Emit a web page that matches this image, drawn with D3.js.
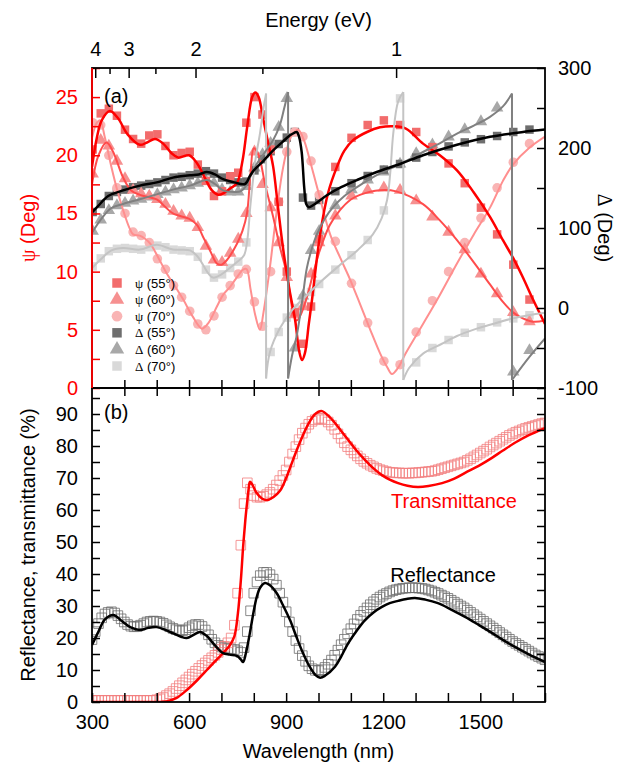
<!DOCTYPE html>
<html>
<head>
<meta charset="utf-8">
<script src="https://cdn.jsdelivr.net/npm/d3@7"></script>
<style>
  body { margin: 0; background: #fff; }
  text { font-family: "Liberation Sans", Arial, sans-serif; }
  .greek { font-family: "Liberation Serif", "DejaVu Serif", serif; }
</style>
</head>
<body>
<svg id="chart" width="628" height="770"></svg>
<script>
// ---------- Ellipsometry: measured points (nm) ----------
const ellipsoWl = [302,327,352,377,402,427,452,477,502,527,552,577,602,627,652,677,702,727,752,777,802,827,852,877,902,927,952,977,1002,1052,1102,1152,1202,1252,1302,1352,1402,1452,1502,1552,1602,1652];
const psi55Meas = [20.5,23.6,24.0,23.4,22.2,21.4,21.0,21.7,21.8,20.8,20.0,20.2,20.3,19.2,17.8,16.5,16.9,18.2,18.5,22.8,25.0,23.5,20.5,16.0,10.0,6.5,3.8,7.0,12.8,19.0,21.5,22.6,23.0,22.6,22.0,20.7,19.3,17.6,15.5,13.2,10.6,7.6];
const psi60Meas = [18.4,21.3,20.8,19.5,18.0,17.0,16.7,16.5,16.2,15.8,15.2,14.8,14.6,13.8,12.2,11.0,10.8,11.6,12.8,15.0,20.3,17.5,15.5,12.5,9.5,6.3,7.0,9.8,12.5,14.8,16.5,17.0,17.2,17.0,16.1,14.7,13.4,11.9,9.8,8.1,6.5,5.7];
const psi70Meas = [22.8,22.6,20.0,17.2,15.0,13.4,13.1,12.5,11.1,10.2,8.8,7.8,6.6,5.5,5.0,6.2,7.8,8.8,9.8,10.2,7.4,5.3,10.0,16.0,20.3,22.0,21.6,19.5,16.6,12.6,9.0,5.6,2.3,2.0,4.8,7.5,10.0,12.5,14.6,17.2,19.4,21.0];
const delta55Meas = [120,130,140,145,148,151,153,155,157,160,163,164,166,168,171,168,163,160,157,158,172,186,196,205,213,220,138,128,135,146,156,165,173,180,188,195,202,207,211,215,220,223];
const delta60Meas = [96,110,122,128,131,134,136,139,142,145,148,150,153,156,159,156,148,145,145,152,175,192,206,226,262,-50,15,72,96,128,148,160,170,180,193,204,214,223,233,250,-80,-53];
const delta70Meas = [52,62,71,74,75,74,73,76,78,76,73,72,71,64,48,38,42,50,58,82,175,242,-55,-30,-12,0,12,20,30,48,66,85,122,262,-68,-50,-40,-31,-24,-18,-13,-9];

// ---------- Ellipsometry: model curves [nm, value]; repeated nm = 360° phase wrap ----------
const psi55Model = [[300,19.0],[315,21.5],[330,23.0],[355,23.8],[380,23.2],[410,21.8],[448,20.9],[470,21.1],[495,21.4],[520,21.0],[545,20.2],[566,19.8],[600,20.0],[625,19.3],[650,18.0],[670,17.0],[690,16.6],[710,16.8],[730,17.2],[748,17.6],[765,19.5],[780,22.5],[795,25.0],[805,25.4],[815,25.0],[830,23.0],[845,21.0],[860,19.0],[875,15.5],[891,11.9],[910,8.5],[928,5.8],[940,3.2],[949,2.4],[958,3.0],[970,5.5],[980,7.6],[1005,13.2],[1030,16.8],[1057,19.0],[1080,20.4],[1107,21.3],[1150,22.0],[1190,22.4],[1230,22.5],[1270,22.3],[1323,21.0],[1375,20.0],[1428,18.7],[1480,16.8],[1530,14.7],[1570,12.7],[1601,11.2],[1630,9.6],[1663,7.6],[1700,5.5]];
const psi60Model = [[300,17.5],[320,20.0],[345,21.1],[365,20.3],[396,18.1],[420,17.0],[448,16.6],[500,16.2],[525,15.6],[550,15.0],[603,14.5],[625,14.0],[643,13.0],[665,11.8],[686,10.7],[700,10.6],[717,11.0],[748,12.4],[765,13.5],[779,15.0],[790,18.5],[800,20.6],[815,20.0],[835,17.5],[860,14.7],[880,12.2],[902,9.8],[915,7.5],[922,6.4],[933,5.8],[945,6.3],[964,7.8],[985,10.0],[1005,11.9],[1035,14.0],[1067,15.3],[1100,16.2],[1128,16.6],[1190,17.0],[1240,16.9],[1323,15.8],[1375,14.4],[1428,12.7],[1480,10.8],[1530,8.9],[1570,7.4],[1601,6.5],[1630,6.0],[1663,5.7],[1700,5.8]];
const psi70Model = [[300,21.5],[315,22.8],[325,23.0],[340,21.5],[360,19.0],[380,16.8],[396,15.3],[415,13.8],[427,13.2],[448,13.1],[465,12.8],[480,12.4],[505,11.2],[532,9.8],[560,8.6],[582,7.6],[610,6.2],[640,5.1],[660,5.6],[686,7.0],[705,8.0],[727,8.7],[750,9.6],[768,10.2],[778,10.2],[790,8.5],[805,6.2],[819,5.0],[830,6.5],[850,10.4],[870,15.0],[891,19.0],[915,21.6],[937,22.2],[955,21.3],[973,19.6],[1000,16.8],[1036,13.2],[1067,11.2],[1098,9.3],[1130,7.1],[1160,5.0],[1190,3.0],[1212,1.8],[1227,1.2],[1245,1.7],[1270,3.0],[1323,5.5],[1375,8.0],[1428,10.7],[1480,13.2],[1530,15.5],[1570,17.8],[1601,19.2],[1650,20.6],[1700,21.6]];
const delta55Model = [[300,119.5],[320,128],[350,140],[396,147],[448,153],[500,157],[550,163],[603,166],[630,167],[655,170],[680,167],[705,161],[740,157],[773,155],[788,165],[800,172],[830,184],[860,197],[890,208],[912,216],[925,219],[933,220],[940,214],[948,195],[956,150],[962,130],[970,126],[985,129],[1026,141],[1070,151],[1119,160],[1180,170],[1252,180],[1323,191],[1428,204],[1530,214],[1632,220],[1700,223]];
const delta60Model = [[300,94],[330,112],[360,125],[396,130],[448,136],[500,142],[550,148],[603,153],[655,160],[680,155],[705,147],[745,145],[760,146],[775,152],[790,165],[809,180],[835,195],[860,210],[880,228],[893,248],[906,270],[906,-88],[918,-60],[933,-34],[950,10],[964,50],[980,75],[995,92],[1020,112],[1045,126],[1080,140],[1119,151],[1180,166],[1252,180],[1323,195],[1380,207],[1428,218],[1480,228],[1530,239],[1570,252],[1598,268],[1598,-90],[1650,-62],[1700,-38]];
const delta70Model = [[300,50],[330,62],[360,72],[396,75],[448,73],[500,79],[550,73],[603,72],[625,65],[643,54],[660,43],[674,38],[700,42],[726,50],[750,58],[770,66],[780,85],[790,130],[805,185],[819,218],[830,250],[838,268],[838,-88],[850,-55],[881,-25],[920,-2],[964,16],[1010,34],[1067,54],[1120,72],[1168,92],[1195,112],[1212,135],[1222,170],[1231,218],[1246,258],[1262,270],[1262,-90],[1280,-75],[1323,-57],[1380,-45],[1428,-35],[1480,-27],[1530,-21],[1601,-13],[1650,-9],[1700,-6]];

// ---------- Reflectance / transmittance: measured (every 10 nm, 300–1700) ----------
const rtWl = d3.range(300, 1701, 10);
const transMeas = [0.5,0.5,0.5,0.5,0.5,0.5,0.5,0.5,0.5,0.5,0.5,0.5,0.5,0.5,0.5,0.5,0.5,0.5,0.5,0.5,
  0.7,1.0,1.4,2.0,2.6,3.3,4.2,5.1,6.0,6.9,7.8,8.7,9.6,10.5,11.4,12.2,13.0,13.8,14.6,15.5,
  16.4,17.4,18.5,20.0,24.0,34.0,49.0,62.0,68.5,66.5,64.5,64.0,64.0,64.3,64.8,65.5,66.5,67.8,69.2,70.8,
  72.5,75.0,77.5,79.8,82.0,84.0,85.6,86.8,87.7,88.2,
  88.6,88.6,88.2,87.5,86.5,85.2,83.8,82.4,81.0,79.8,78.8,77.8,76.9,76.0,75.2,74.6,74.0,73.5,73.0,72.6,
  72.3,72.0,71.8,71.7,71.6,71.6,71.5,71.5,71.5,71.6,71.6,71.7,71.8,71.9,72.0,72.1,72.3,72.6,72.9,73.2,
  73.5,73.8,74.1,74.4,74.7,75.0,75.5,76.0,76.6,77.2,77.8,78.4,79.0,79.7,80.3,80.9,81.5,82.1,82.7,83.3,
  83.8,84.3,84.7,85.1,85.5,85.8,86.1,86.4,86.7,87.0,87.2];
const reflMeas = [19.5,22.0,24.5,26.3,27.5,28.0,28.2,27.8,27.0,26.0,25.0,24.2,23.7,23.5,23.6,24.0,24.5,25.0,25.2,25.3,
  25.2,25.0,24.6,24.1,23.5,23.0,22.6,22.3,22.3,22.6,23.2,23.8,24.2,24.2,23.6,22.5,21.0,19.6,18.5,17.7,
  17.2,16.9,16.7,16.6,16.4,16.0,15.5,17.0,22.0,28.5,34.0,37.5,39.5,40.5,40.5,39.8,38.4,36.5,34.0,31.2,
  28.2,25.0,22.0,19.2,16.7,14.5,12.7,11.3,10.4,9.9,
  9.8,10.1,10.8,11.8,13.1,14.6,16.2,17.9,19.6,21.3,22.9,24.4,25.8,27.1,28.3,29.4,30.4,31.3,32.1,32.8,
  33.4,33.9,34.4,34.8,35.1,35.3,35.5,35.6,35.7,35.7,35.7,35.6,35.5,35.3,35.0,34.7,34.3,33.9,33.4,32.9,
  32.4,31.8,31.2,30.6,30.0,29.4,28.7,28.0,27.3,26.6,25.9,25.2,24.5,23.8,23.1,22.4,21.7,21.0,20.3,19.6,
  18.9,18.3,17.7,17.1,16.5,15.9,15.3,14.7,14.2,13.7,13.2];

// ---------- Reflectance / transmittance: model curves [nm, %] ----------
const transModel = [[300,0],[420,0],[500,0],[530,0.2],[560,1.2],[593,3.75],[625,6.8],[655,10],[680,12.7],[705,15.3],[725,17.6],[740,20.5],[751,27.8],[760,38],[767,48.4],[774,57],[779,62],[784,66.5],[788,68.8],[795,68],[809,65.3],[825,63.6],[840,63.1],[860,64.0],[881,66.0],[900,70.0],[921,75.6],[942,81],[964,86],[985,89.5],[1000,90.7],[1011,90.9],[1030,89.5],[1051,87.2],[1070,84.7],[1092,81.9],[1118,78.5],[1144,75.6],[1170,73.0],[1196,70.9],[1220,69.5],[1246,68.4],[1275,67.6],[1307,67.2],[1340,67.5],[1382,68.4],[1420,69.8],[1453,71.6],[1495,73.8],[1536,76.3],[1570,78.6],[1607,81.0],[1650,83.4],[1700,85.6]];
const reflModel = [[300,17.8],[320,22.0],[340,25.8],[366,27.2],[390,25.5],[420,23.3],[448,22.5],[475,23.2],[500,23.4],[525,22.6],[550,21.5],[575,20.4],[593,20.0],[614,21.0],[634,21.9],[655,20.6],[674,18.4],[690,16.6],[705,15.3],[725,14.8],[748,14.4],[760,13.3],[767,12.5],[775,15.0],[788,21.6],[800,28.5],[809,32.8],[820,35.8],[835,37.2],[850,36.5],[871,34.0],[890,30.3],[912,25.6],[932,20.3],[952,15.3],[970,11.5],[990,8.5],[1005,7.6],[1020,8.2],[1051,11.0],[1070,14.2],[1092,18.4],[1118,22.3],[1144,25.6],[1170,28.0],[1196,29.7],[1220,30.9],[1246,31.6],[1272,32.2],[1298,32.5],[1330,32.0],[1369,30.9],[1410,28.9],[1453,26.6],[1495,24.1],[1536,21.6],[1570,19.4],[1607,17.2],[1650,14.9],[1700,12.5]];

// ---------- Axis ticks ----------
const energyTicks = [4, 3.5, 3, 2.5, 2, 1.5, 1];
const energyLabels = [4, 3, 2, 1];
const wlLabels = [300, 600, 900, 1200, 1500];

// ---------- Layout ----------
const svg = d3.select('#chart');
const X0 = 92, X1 = 545, YA0 = 68, YA1 = 388, YB1 = 702;
const x = d3.scaleLinear().domain([300, 1700]).range([X0, X1]);
const yPsi = d3.scaleLinear().domain([0, 27.5]).range([YA1, YA0]);
const yDel = d3.scaleLinear().domain([-100, 300]).range([YA1, YA0]);
const yRT = d3.scaleLinear().domain([0, 98.125]).range([YB1, YA1]);
const hc = 1239.84; // eV·nm

const defs = svg.append('defs');
defs.append('clipPath').attr('id', 'clipA').append('rect')
  .attr('x', X0).attr('y', YA0).attr('width', X1 - X0).attr('height', YA1 - YA0);
defs.append('clipPath').attr('id', 'clipB').append('rect')
  .attr('x', X0).attr('y', YA1).attr('width', X1 - X0).attr('height', YB1 - YA1);

const curve = d3.curveCatmullRom.alpha(0.5);

function drawModel(g, pts, yScale, color, width) {
  // split at repeated wavelengths (phase wraps) and join them with straight drops
  const segs = [[]];
  pts.forEach((p, i) => {
    if (i > 0 && p[0] === pts[i - 1][0]) {
      g.append('line')
        .attr('x1', x(p[0])).attr('x2', x(p[0]))
        .attr('y1', yScale(pts[i - 1][1])).attr('y2', yScale(p[1]))
        .attr('stroke', color).attr('stroke-width', width);
      segs.push([]);
    }
    segs[segs.length - 1].push(p);
  });
  const line = d3.line().x(d => x(d[0])).y(d => yScale(d[1])).curve(curve);
  segs.forEach(s => g.append('path').attr('d', line(s)).attr('fill', 'none')
    .attr('stroke', color).attr('stroke-width', width).attr('stroke-linejoin', 'round'));
}

function drawMarkers(g, wl, vals, yScale, type, size, fill) {
  const sym = d3.symbol().type(type).size(size);
  g.selectAll(null).data(vals).join('path')
    .attr('d', sym)
    .attr('transform', (d, i) => `translate(${x(wl[i])},${yScale(d)})`)
    .attr('fill', fill);
}

// ---------- Panel (a) ----------
const gA = svg.append('g').attr('clip-path', 'url(#clipA)');
const seriesA = [
  { meas: delta70Meas, model: delta70Model, y: yDel, sym: d3.symbolSquare, size: 72, mcol: '#d9d9d9', lcol: '#c4c4c4', lw: 2 },
  { meas: delta60Meas, model: delta60Model, y: yDel, sym: d3.symbolTriangle, size: 68, mcol: '#a8a8a8', lcol: '#808080', lw: 2 },
  { meas: delta55Meas, model: delta55Model, y: yDel, sym: d3.symbolSquare, size: 72, mcol: '#6e6e6e', lcol: '#000000', lw: 2.5 },
  { meas: psi70Meas, model: psi70Model, y: yPsi, sym: d3.symbolCircle, size: 72, mcol: '#f9b4b4', lcol: '#ff8f8f', lw: 2 },
  { meas: psi60Meas, model: psi60Model, y: yPsi, sym: d3.symbolTriangle, size: 68, mcol: '#f69090', lcol: '#ff4c4c', lw: 2 },
  { meas: psi55Meas, model: psi55Model, y: yPsi, sym: d3.symbolSquare, size: 72, mcol: '#f26c6c', lcol: '#ff0000', lw: 2.5 }
];
seriesA.forEach(s => drawMarkers(gA, ellipsoWl, s.meas, s.y, s.sym, s.size, s.mcol));
[3, 4, 5, 0, 1, 2].forEach(i => {
  const s = seriesA[i];
  drawModel(gA, s.model, s.y, s.lcol, s.lw);
});

// ---------- Panel (b) ----------
const gB = svg.append('g').attr('clip-path', 'url(#clipB)');
const sq = d3.symbol().type(d3.symbolSquare).size(92);
gB.selectAll('.rm').data(reflMeas).join('path').attr('class', 'rm')
  .attr('d', sq).attr('transform', (d, i) => `translate(${x(rtWl[i])},${yRT(d)})`)
  .attr('fill', 'none').attr('stroke', '#6c6c6c').attr('stroke-width', 0.8);
gB.selectAll('.tm').data(transMeas).join('path').attr('class', 'tm')
  .attr('d', sq).attr('transform', (d, i) => `translate(${x(rtWl[i])},${yRT(d)})`)
  .attr('fill', 'none').attr('stroke', '#f27d7d').attr('stroke-width', 0.8);
drawModel(gB, transModel, yRT, '#ff0000', 2.5);
drawModel(gB, reflModel, yRT, '#000000', 2.5);

// ---------- Axes ----------
function styleAxis(g, color, fs) {
  g.select('.domain').remove();
  g.selectAll('line').attr('stroke', color).attr('stroke-width', 1.5);
  g.selectAll('text').attr('fill', color).style('font-size', fs + 'px')
    .style('font-family', '"Liberation Sans", Arial, sans-serif');
}

// panel (a) left: psi
const axPsi = svg.append('g').attr('transform', `translate(${X0},0)`)
  .call(d3.axisLeft(yPsi).tickValues(d3.range(0, 27.6, 2.5)).tickSize(-8).tickPadding(14)
    .tickFormat(d => d % 5 === 0 ? d : ''));
styleAxis(axPsi, '#ff0000', 20);
// panel (a) right: delta
const axDel = svg.append('g').attr('transform', `translate(${X1},0)`)
  .call(d3.axisRight(yDel).tickValues(d3.range(-100, 301, 50)).tickSize(-8).tickPadding(13)
    .tickFormat(d => d % 100 === 0 ? d : ''));
styleAxis(axDel, '#000', 20);
// panel (a) top: energy
const axE = svg.append('g').attr('transform', `translate(0,${YA0})`)
  .call(d3.axisTop(x).tickValues(energyTicks.map(e => hc / e)).tickSize(-10).tickPadding(12)
    .tickFormat((d, i) => energyLabels.includes(energyTicks[i]) ? energyTicks[i] : ''));
styleAxis(axE, '#000', 20);
axE.selectAll('.tick line').attr('y2', (d, i) => energyLabels.includes(energyTicks[i]) ? 10 : 6);
// panel (a) bottom ticks, panel (b) top ticks
const wlMinor = d3.range(400, 1601, 100);
const axAB = svg.append('g').attr('transform', `translate(0,${YA1})`)
  .call(d3.axisBottom(x).tickValues(wlMinor).tickSize(-8).tickFormat(''));
styleAxis(axAB, '#000', 20);
const axBT = svg.append('g').attr('transform', `translate(0,${YA1})`)
  .call(d3.axisTop(x).tickValues(wlMinor).tickSize(-8).tickFormat(''));
styleAxis(axBT, '#000', 20);
// panel (b) bottom
const axWl = svg.append('g').attr('transform', `translate(0,${YB1})`)
  .call(d3.axisBottom(x).tickValues(d3.range(300, 1701, 100)).tickSize(-9).tickPadding(13)
    .tickFormat(d => wlLabels.includes(d) ? d : ''));
styleAxis(axWl, '#000', 20);
// panel (b) left / right
const axRT = svg.append('g').attr('transform', `translate(${X0},0)`)
  .call(d3.axisLeft(yRT).tickValues(d3.range(0, 96, 5)).tickSize(-8).tickPadding(14)
    .tickFormat(d => d % 10 === 0 ? d : ''));
styleAxis(axRT, '#000', 20);
const axRTr = svg.append('g').attr('transform', `translate(${X1},0)`)
  .call(d3.axisRight(yRT).tickValues(d3.range(5, 96, 5)).tickSize(-8).tickFormat(''));
styleAxis(axRTr, '#000', 20);

// frames
svg.append('rect').attr('x', X0).attr('y', YA0).attr('width', X1 - X0).attr('height', YA1 - YA0)
  .attr('fill', 'none').attr('stroke', '#000').attr('stroke-width', 1.8);
svg.append('rect').attr('x', X0).attr('y', YA1).attr('width', X1 - X0).attr('height', YB1 - YA1)
  .attr('fill', 'none').attr('stroke', '#000').attr('stroke-width', 1.8);
svg.append('line').attr('x1', X0).attr('x2', X0).attr('y1', YA0).attr('y2', YA1)
  .attr('stroke', '#ff0000').attr('stroke-width', 1.8);

// ---------- Titles ----------
svg.append('text').attr('x', (X0 + X1) / 2).attr('y', 27).attr('text-anchor', 'middle')
  .style('font-size', '20px').text('Energy (eV)');
svg.append('text').attr('x', (X0 + X1) / 2).attr('y', 758).attr('text-anchor', 'middle')
  .style('font-size', '20px').text('Wavelength (nm)');
const tPsi = svg.append('text').attr('transform', 'translate(35,228) rotate(-90)')
  .attr('text-anchor', 'middle').attr('fill', '#ff0000').style('font-size', '20px');
tPsi.append('tspan').attr('class', 'greek').text('ψ');
tPsi.append('tspan').text(' (Deg)');
const tDel = svg.append('text').attr('transform', 'translate(598,228) rotate(90)')
  .attr('text-anchor', 'middle').style('font-size', '20px');
tDel.append('tspan').attr('class', 'greek').text('Δ');
tDel.append('tspan').text(' (Deg)');
svg.append('text').attr('transform', 'translate(35,545) rotate(-90)')
  .attr('text-anchor', 'middle').style('font-size', '20px').text('Reflectance, transmittance (%)');

svg.append('text').attr('x', 104).attr('y', 103).style('font-size', '20px').text('(a)');
svg.append('text').attr('x', 104).attr('y', 419).style('font-size', '20px').text('(b)');
svg.append('text').attr('x', 454).attr('y', 508).attr('text-anchor', 'middle')
  .attr('fill', '#ff0000').style('font-size', '20px').text('Transmittance');
svg.append('text').attr('x', 443).attr('y', 582).attr('text-anchor', 'middle')
  .style('font-size', '20px').text('Reflectance');

// ---------- Legend ----------
const legendItems = [
  { g: 'ψ', a: '55°', sym: d3.symbolSquare, col: '#f26c6c' },
  { g: 'ψ', a: '60°', sym: d3.symbolTriangle, col: '#f69090' },
  { g: 'ψ', a: '70°', sym: d3.symbolCircle, col: '#f9b4b4' },
  { g: 'Δ', a: '55°', sym: d3.symbolSquare, col: '#6e6e6e' },
  { g: 'Δ', a: '60°', sym: d3.symbolTriangle, col: '#a8a8a8' },
  { g: 'Δ', a: '70°', sym: d3.symbolSquare, col: '#d9d9d9' }
];
const leg = svg.append('g');
legendItems.forEach((it, i) => {
  const yy = 283 + i * 16.6;
  leg.append('path').attr('d', d3.symbol().type(it.sym).size(90)())
    .attr('transform', `translate(117,${yy})`).attr('fill', it.col);
  const t = leg.append('text').attr('x', 135).attr('y', yy + 4.5).style('font-size', '13px');
  t.append('tspan').attr('class', 'greek').text(it.g);
  t.append('tspan').text(` (${it.a})`);
});
</script>
</body>
</html>
